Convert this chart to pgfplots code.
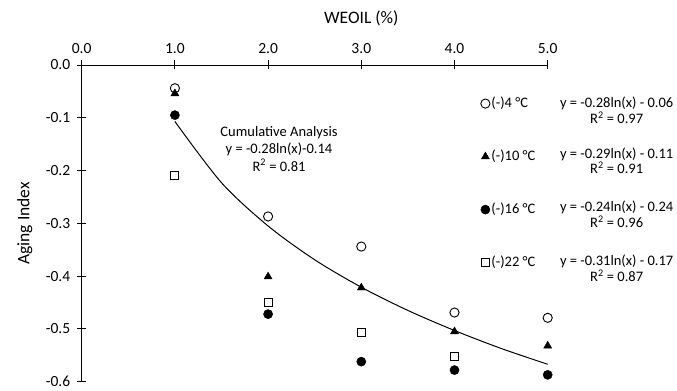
\documentclass[border=0pt]{standalone}
\usepackage{fontspec}
\setmainfont{Carlito}
\usepackage{pgfplots}
\pgfplotsset{compat=1.18}
\begin{document}
\begin{tikzpicture}
\begin{axis}[
  at={(0,0)}, anchor=south west,
  scale only axis, width=466bp, height=316.7bp,
  xmin=0, xmax=5, ymin=-0.6, ymax=0,
  axis x line=top, axis y line=left,
  axis line style={-, black, line width=0.9bp},
  xtick={0,1,2,3,4,5}, xticklabels={0.0,1.0,2.0,3.0,4.0,5.0},
  ytick={-0.6,-0.5,-0.4,-0.3,-0.2,-0.1,0},
  yticklabels={-0.6,-0.5,-0.4,-0.3,-0.2,-0.1,0.0},
  tick align=center, major tick length=9bp,
  tick style={black, line width=0.9bp},
  ticklabel style={font=\fontsize{15.5bp}{18bp}\selectfont},
  xticklabel style={yshift=3bp},
  yticklabel style={xshift=-3.5bp},
  xlabel={WEOIL (\%)}, ylabel={Aging Index},
  label style={font=\fontsize{17.5bp}{20bp}\selectfont},
  xlabel style={at={(axis description cs:0.6,1.148)}, anchor=center},
  ylabel style={at={(axis description cs:-0.122,0.5)}, anchor=center},
  clip=false,
  legend style={at={(axis description cs:0.856,0.904)}, anchor=north west,
    draw=none, fill=none, inner sep=0pt, row sep=37bp,
    font=\fontsize{14.5bp}{17bp}\selectfont,
    nodes={inner sep=1.5bp, text height=10bp, text depth=3bp, anchor=west}},
  legend cell align=left,
  legend image code/.code={\draw[#1] plot coordinates {(0bp,0bp)};},
]
\addplot[black, line width=1bp, smooth, forget plot] coordinates {
 (1,-0.107) (1.5,-0.223) (2,-0.305) (2.5,-0.369) (3,-0.421)
 (3.5,-0.465) (4,-0.503) (4.5,-0.537) (5,-0.567)};
\addplot[only marks, mark=*, mark size=4.6bp, mark options={fill=white, draw=black, line width=0.9bp}] coordinates {
 (1,-0.044) (2,-0.287) (3,-0.344) (4,-0.469) (5,-0.479)};
\addlegendentry{(-)4 °C}
\addplot[only marks, mark=triangle*, mark size=4.6bp, mark options={fill=black, draw=black}] coordinates {
 (1,-0.054) (2,-0.401) (3,-0.422) (4,-0.505) (5,-0.532)};
\addlegendentry{(-)10 °C}
\addplot[only marks, mark=*, mark size=4.6bp, mark options={fill=black, draw=black}] coordinates {
 (1,-0.095) (2,-0.472) (3,-0.562) (4,-0.578) (5,-0.587)};
\addlegendentry{(-)16 °C}
\addplot[only marks, mark=square*, mark size=4bp, mark options={fill=white, draw=black, line width=0.9bp}] coordinates {
 (1,-0.210) (2,-0.449) (3,-0.507) (4,-0.552)};
\addlegendentry{(-)22 °C}
\begin{scope}[font=\fontsize{14.5bp}{15.7bp}\selectfont]
\node[align=center] at (axis description cs:1.148,0.8573) {y = -0.28ln(x) - 0.06\\R\textsuperscript{2} = 0.97};
\node[align=center] at (axis description cs:1.148,0.6972) {y = -0.29ln(x) - 0.11\\R\textsuperscript{2} = 0.91};
\node[align=center] at (axis description cs:1.148,0.5278) {y = -0.24ln(x) - 0.24\\R\textsuperscript{2} = 0.96};
\node[align=center] at (axis description cs:1.148,0.3573) {y = -0.31ln(x) - 0.17\\R\textsuperscript{2} = 0.87};
\end{scope}
\node[align=center, font=\fontsize{14.5bp}{17.5bp}\selectfont] at (axis description cs:0.4234,0.736) {Cumulative Analysis\\y = -0.28ln(x)-0.14\\R\textsuperscript{2} = 0.81};
\end{axis}
\path[use as bounding box] (-81.7bp,-8.3bp) rectangle (595.3bp,381.7bp);
\end{tikzpicture}
\end{document}
